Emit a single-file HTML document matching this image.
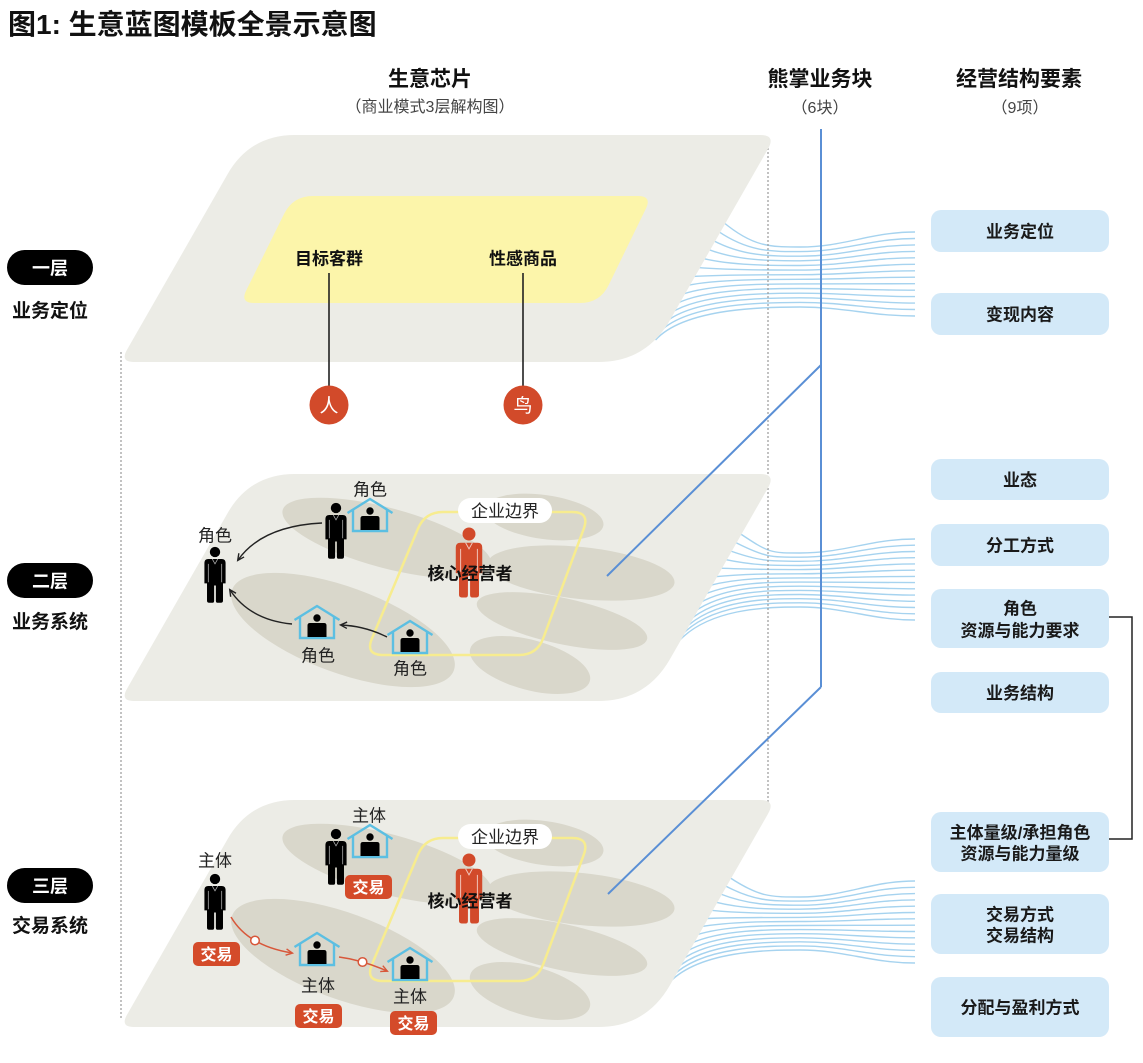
<!DOCTYPE html>
<html><head><meta charset="utf-8">
<style>
html,body{margin:0;padding:0;background:#fff;}
svg{display:block;}
text{font-family:"Liberation Sans","Noto Sans CJK SC",sans-serif;}
</style></head>
<body>
<svg width="1143" height="1063" viewBox="0 0 1143 1063" xmlns="http://www.w3.org/2000/svg">
<defs>
  <g id="person">
    <circle cx="0" cy="0" r="4.8"/>
    <path d="M-9.8,10 Q-9.8,6.5 -6.2,6.5 L6.2,6.5 Q9.8,6.5 9.8,10 L9.8,29 L7.4,29 L7.4,45 Q7.4,47 5.4,47 L2.2,47 Q0.8,47 0.8,45 L0.8,31 L-0.8,31 L-0.8,45 Q-0.8,47 -2.2,47 L-5.4,47 Q-7.4,47 -7.4,45 L-7.4,29 L-9.8,29 Z"/>
    <path d="M-6.2,11 L-6.2,28 M6.2,11 L6.2,28 M-2.5,6.5 L0,11 L2.5,6.5" fill="none" stroke="#fff" stroke-width="0.7" opacity="0.7"/>
  </g>
  <g id="house">
    <path d="M-22.5,14 L0,0 L22.5,14" fill="none" stroke="#5cbfe2" stroke-width="2.4"/>
    <path d="M-17,10.6 L-17,32 L17,32 L17,10.6" fill="none" stroke="#5cbfe2" stroke-width="2.4"/>
    <circle cx="0" cy="12" r="3.7" fill="#000"/>
    <path d="M-9.5,31 L-9.5,19.5 Q-9.5,17 -7,17 L7,17 Q9.5,17 9.5,19.5 L9.5,31 Z" fill="#000"/>
  </g>
  <marker id="ab" markerWidth="10" markerHeight="10" refX="7" refY="4" orient="auto" markerUnits="userSpaceOnUse">
    <path d="M1,0.8 L7.5,4 L1,7.2" fill="none" stroke="#222" stroke-width="1.4"/>
  </marker>
  <marker id="ar" markerWidth="10" markerHeight="10" refX="7" refY="4" orient="auto" markerUnits="userSpaceOnUse">
    <path d="M1,0.8 L7.5,4 L1,7.2" fill="none" stroke="#d8573a" stroke-width="1.4"/>
  </marker>
</defs>

<!-- Fans -->
<g fill="none" stroke="#a6d3ef" stroke-width="1.4">
<path d="M723.1,222 C753.1,247 770,247 800,247 C845,247 870,232 915,232"/>
<path d="M717.9,231.1 C747.9,251.6 770,251.6 800,251.6 C845,251.6 870,238.5 915,238.5"/>
<path d="M712.7,240.2 C742.7,256.2 770,256.2 800,256.2 C845,256.2 870,244.9 915,244.9"/>
<path d="M707.6,249.2 C737.6,260.8 770,260.8 800,260.8 C845,260.8 870,251.4 915,251.4"/>
<path d="M702.3,258.3 C732.3,265.5 770,265.5 800,265.5 C845,265.5 870,257.8 915,257.8"/>
<path d="M697.1,267.4 C727.1,270.1 770,270.1 800,270.1 C845,270.1 870,264.3 915,264.3"/>
<path d="M691.9,276.5 C721.9,274.7 770,274.7 800,274.7 C845,274.7 870,270.8 915,270.8"/>
<path d="M686.8,285.5 C716.8,279.3 770,279.3 800,279.3 C845,279.3 870,277.2 915,277.2"/>
<path d="M681.5,294.6 C711.5,283.9 770,283.9 800,283.9 C845,283.9 870,283.7 915,283.7"/>
<path d="M676.3,303.7 C706.3,288.5 770,288.5 800,288.5 C845,288.5 870,290.2 915,290.2"/>
<path d="M671.1,312.8 C701.1,293.2 770,293.2 800,293.2 C845,293.2 870,296.6 915,296.6"/>
<path d="M666,321.8 C696,297.8 770,297.8 800,297.8 C845,297.8 870,303.1 915,303.1"/>
<path d="M660.7,330.9 C690.7,302.4 770,302.4 800,302.4 C845,302.4 870,309.5 915,309.5"/>
<path d="M655.5,340 C685.5,307 770,307 800,307 C845,307 870,316 915,316"/>

<path d="M739.2,533 C769.2,553 770,553 800,553 C845,553 870,539 915,539"/>
<path d="M734.2,541.8 C764.2,557.2 770,557.2 800,557.2 C845,557.2 870,545.2 915,545.2"/>
<path d="M729.2,550.5 C759.2,561.3 770,561.3 800,561.3 C845,561.3 870,551.5 915,551.5"/>
<path d="M724.1,559.3 C754.1,565.5 770,565.5 800,565.5 C845,565.5 870,557.7 915,557.7"/>
<path d="M719.1,568.1 C749.1,569.6 770,569.6 800,569.6 C845,569.6 870,563.9 915,563.9"/>
<path d="M714.1,576.8 C744.1,573.8 770,573.8 800,573.8 C845,573.8 870,570.2 915,570.2"/>
<path d="M709.1,585.6 C739.1,577.9 770,577.9 800,577.9 C845,577.9 870,576.4 915,576.4"/>
<path d="M704,594.4 C734,582.1 770,582.1 800,582.1 C845,582.1 870,582.6 915,582.6"/>
<path d="M699,603.2 C729,586.2 770,586.2 800,586.2 C845,586.2 870,588.8 915,588.8"/>
<path d="M694,611.9 C724,590.4 770,590.4 800,590.4 C845,590.4 870,595.1 915,595.1"/>
<path d="M688.9,620.7 C718.9,594.5 770,594.5 800,594.5 C845,594.5 870,601.3 915,601.3"/>
<path d="M683.9,629.5 C713.9,598.7 770,598.7 800,598.7 C845,598.7 870,607.5 915,607.5"/>
<path d="M678.9,638.2 C708.9,602.8 770,602.8 800,602.8 C845,602.8 870,613.8 915,613.8"/>
<path d="M673.9,647 C703.9,607 770,607 800,607 C845,607 870,620 915,620"/>

<path d="M728.9,877 C758.9,897 770,897 800,897 C845,897 870,881 915,881"/>
<path d="M724.1,885.3 C754.1,901.1 770,901.1 800,901.1 C845,901.1 870,887.3 915,887.3"/>
<path d="M719.4,893.6 C749.4,905.2 770,905.2 800,905.2 C845,905.2 870,893.6 915,893.6"/>
<path d="M714.6,901.9 C744.6,909.2 770,909.2 800,909.2 C845,909.2 870,899.9 915,899.9"/>
<path d="M709.9,910.2 C739.9,913.3 770,913.3 800,913.3 C845,913.3 870,906.2 915,906.2"/>
<path d="M705.1,918.5 C735.1,917.4 770,917.4 800,917.4 C845,917.4 870,912.5 915,912.5"/>
<path d="M700.3,926.8 C730.3,921.5 770,921.5 800,921.5 C845,921.5 870,918.8 915,918.8"/>
<path d="M695.5,935.2 C725.5,925.5 770,925.5 800,925.5 C845,925.5 870,925.2 915,925.2"/>
<path d="M690.8,943.5 C720.8,929.6 770,929.6 800,929.6 C845,929.6 870,931.5 915,931.5"/>
<path d="M686,951.8 C716,933.7 770,933.7 800,933.7 C845,933.7 870,937.8 915,937.8"/>
<path d="M681.3,960.1 C711.3,937.8 770,937.8 800,937.8 C845,937.8 870,944.1 915,944.1"/>
<path d="M676.5,968.4 C706.5,941.8 770,941.8 800,941.8 C845,941.8 870,950.4 915,950.4"/>
<path d="M671.8,976.7 C701.8,945.9 770,945.9 800,945.9 C845,945.9 870,956.7 915,956.7"/>
<path d="M667,985 C697,950 770,950 800,950 C845,950 870,963 915,963"/>
</g>

<!-- Dotted guide lines -->
<g stroke="#9a9a9a" stroke-width="1.2" stroke-dasharray="2 2" fill="none">
  <path d="M121,352 V1018"/>
  <path d="M768,140 V812"/>
</g>

<!-- Layer 1 -->
<g transform="translate(0,135)">
  <path d="M295,0 L760,0 Q776,0 768,13.9 L669.9,185.3 Q646,227 598,227 L134,227 Q120,227 127,214.8 L227.6,39.1 Q250,0 295,0Z" fill="#ecece6"/>
</g>
<path d="M313,196 L638,196 Q652,196 645.9,208.6 L608.7,285 Q600,303 580,303 L254,303 Q240,303 246.2,290.5 L284.1,213.9 Q293,196 313,196Z" fill="#fcf5aa"/>
<text x="329" y="264.5" font-size="17" font-weight="bold" text-anchor="middle" fill="#111">目标客群</text>
<text x="523" y="264.5" font-size="17" font-weight="bold" text-anchor="middle" fill="#111">性感商品</text>
<path d="M329,273 V387 M523,273 V387" stroke="#222" stroke-width="1.6"/>
<circle cx="329" cy="405" r="19.5" fill="#d24a2a"/>
<circle cx="523" cy="405" r="19.5" fill="#d24a2a"/>
<text x="329" y="412" font-size="19" text-anchor="middle" fill="#fff">人</text>
<text x="523" y="412" font-size="19" text-anchor="middle" fill="#fff">鸟</text>

<!-- Layer 2 -->
<g transform="translate(0,474)">
  <path d="M295,0 L760,0 Q776,0 768,13.9 L669.9,185.3 Q646,227 598,227 L134,227 Q120,227 127,214.8 L227.6,39.1 Q250,0 295,0Z" fill="#ecece6"/>
</g>
<g fill="#d9d7cb">
  <ellipse cx="387" cy="538" rx="108" ry="30" transform="rotate(15 387 538)"/>
  <ellipse cx="343" cy="630" rx="118" ry="43" transform="rotate(20 343 630)"/>
  <ellipse cx="544" cy="517" rx="60" ry="22" transform="rotate(8 544 517)"/>
  <ellipse cx="581" cy="573" rx="94" ry="26" transform="rotate(6 581 573)"/>
  <ellipse cx="562" cy="621" rx="87" ry="23" transform="rotate(12 562 621)"/>
  <ellipse cx="530" cy="665" rx="62" ry="25" transform="rotate(15 530 665)"/>
</g>
<path d="M443,512 L572,512 Q590,512 583.7,528.9 L543.3,638.1 Q537,655 519,655 L383,655 Q365,655 372,638.4 L418,528.6 Q425,512 443,512Z" fill="none" stroke="#f7ec8f" stroke-width="2.5"/>
<rect x="458" y="498" width="94" height="25" rx="12.5" fill="#fff"/>
<text x="505" y="517" font-size="17" text-anchor="middle" fill="#222">企业边界</text>
<use href="#person" transform="translate(469,534) scale(1.35)" fill="#d24a2a"/>
<text x="470" y="579.5" font-size="17" font-weight="bold" text-anchor="middle" fill="#111">核心经营者</text>
<use href="#person" transform="translate(336,508) scale(1.08)" fill="#000"/>
<use href="#house" x="370" y="499"/>
<use href="#person" transform="translate(215,552) scale(1.08)" fill="#000"/>
<use href="#house" x="317" y="606"/>
<use href="#house" x="410" y="621"/>
<g font-size="17" text-anchor="middle" fill="#222">
  <text x="370" y="495.5">角色</text>
  <text x="215" y="541.5">角色</text>
  <text x="318" y="661.5">角色</text>
  <text x="410" y="674.5">角色</text>
</g>
<g fill="none" stroke="#222" stroke-width="1.4">
  <path d="M322,523 Q262,526 238,560" marker-end="url(#ab)"/>
  <path d="M292,624 Q250,620 230,590" marker-end="url(#ab)"/>
  <path d="M387,637 Q365,626 341,625" marker-end="url(#ab)"/>
</g>

<!-- Layer 3 -->
<g transform="translate(0,800)">
  <path d="M295,0 L760,0 Q776,0 768,13.9 L669.9,185.3 Q646,227 598,227 L134,227 Q120,227 127,214.8 L227.6,39.1 Q250,0 295,0Z" fill="#ecece6"/>
</g>
<g transform="translate(0,326)">
  <g fill="#d9d7cb">
    <ellipse cx="387" cy="538" rx="108" ry="30" transform="rotate(15 387 538)"/>
    <ellipse cx="343" cy="630" rx="118" ry="43" transform="rotate(20 343 630)"/>
    <ellipse cx="544" cy="517" rx="60" ry="22" transform="rotate(8 544 517)"/>
    <ellipse cx="581" cy="573" rx="94" ry="26" transform="rotate(6 581 573)"/>
    <ellipse cx="562" cy="621" rx="87" ry="23" transform="rotate(12 562 621)"/>
    <ellipse cx="530" cy="665" rx="62" ry="25" transform="rotate(15 530 665)"/>
  </g>
  <path d="M443,512 L572,512 Q590,512 583.7,528.9 L543.3,638.1 Q537,655 519,655 L383,655 Q365,655 372,638.4 L418,528.6 Q425,512 443,512Z" fill="none" stroke="#f7ec8f" stroke-width="2.5"/>
  <rect x="458" y="498" width="94" height="25" rx="12.5" fill="#fff"/>
  <use href="#person" transform="translate(469,534) scale(1.35)" fill="#d24a2a"/>
  <use href="#person" transform="translate(336,508) scale(1.08)" fill="#000"/>
  <use href="#house" x="370" y="499"/>
  <use href="#person" transform="translate(215,553) scale(1.08)" fill="#000"/>
  <use href="#house" x="317" y="607"/>
  <use href="#house" x="410" y="622"/>
</g>
<text x="505" y="843" font-size="17" text-anchor="middle" fill="#222">企业边界</text>
<text x="470" y="907" font-size="17" font-weight="bold" text-anchor="middle" fill="#111">核心经营者</text>
<g font-size="17" text-anchor="middle" fill="#222">
  <text x="369" y="821.5">主体</text>
  <text x="215" y="866.5">主体</text>
  <text x="318" y="991.5">主体</text>
  <text x="410" y="1002.5">主体</text>
</g>
<g fill="none" stroke="#d8573a" stroke-width="1.5">
  <path d="M231,917 Q248,946 292,953" marker-end="url(#ar)"/>
  <path d="M339,957 Q362,960 387,971" marker-end="url(#ar)"/>
</g>
<circle cx="255" cy="940.5" r="4.3" fill="#fff" stroke="#d8573a" stroke-width="1.5"/>
<circle cx="362.5" cy="962" r="4.3" fill="#fff" stroke="#d8573a" stroke-width="1.5"/>
<g fill="#d44b2a">
  <rect x="345" y="875" width="47" height="24" rx="5"/>
  <rect x="193" y="942" width="47" height="24" rx="5"/>
  <rect x="295" y="1004" width="47" height="24" rx="5"/>
  <rect x="390" y="1011" width="47" height="24" rx="5"/>
</g>
<g font-size="16" font-weight="bold" text-anchor="middle" fill="#fff">
  <text x="368.5" y="893">交易</text>
  <text x="216.5" y="960">交易</text>
  <text x="318.5" y="1022">交易</text>
  <text x="413.5" y="1029">交易</text>
</g>

<!-- Blue connector lines -->
<g stroke="#5a8fd5" stroke-width="2" fill="none">
  <path d="M821,129 V687"/>
  <path d="M821,365 L607,576"/>
  <path d="M821,687 L608,894"/>
</g>

<!-- Title & headers -->
<text x="8" y="34" font-size="28" font-weight="bold" fill="#111">图1: 生意蓝图模板全景示意图</text>
<text x="430" y="86" font-size="21" font-weight="bold" text-anchor="middle" fill="#111">生意芯片</text>
<text x="430" y="112" font-size="16" text-anchor="middle" fill="#444">（商业模式3层解构图）</text>
<text x="820" y="86" font-size="21" font-weight="bold" text-anchor="middle" fill="#111">熊掌业务块</text>
<text x="820" y="113" font-size="16" text-anchor="middle" fill="#444">（6块）</text>
<text x="1019" y="86" font-size="21" font-weight="bold" text-anchor="middle" fill="#111">经营结构要素</text>
<text x="1020" y="113" font-size="16" text-anchor="middle" fill="#444">（9项）</text>

<!-- Left layer labels -->
<rect x="7" y="250" width="86" height="35" rx="17.5" fill="#000"/>
<text x="50" y="274.5" font-size="18" font-weight="bold" text-anchor="middle" fill="#fff">一层</text>
<text x="50" y="317" font-size="19" font-weight="bold" text-anchor="middle" fill="#111">业务定位</text>
<rect x="7" y="563" width="86" height="35" rx="17.5" fill="#000"/>
<text x="50" y="587.5" font-size="18" font-weight="bold" text-anchor="middle" fill="#fff">二层</text>
<text x="50" y="628" font-size="19" font-weight="bold" text-anchor="middle" fill="#111">业务系统</text>
<rect x="7" y="868" width="86" height="35" rx="17.5" fill="#000"/>
<text x="50" y="892.5" font-size="18" font-weight="bold" text-anchor="middle" fill="#fff">三层</text>
<text x="50" y="932" font-size="19" font-weight="bold" text-anchor="middle" fill="#111">交易系统</text>

<!-- Right boxes -->
<g fill="#d3e9f8">
  <rect x="931" y="210" width="178" height="42" rx="10"/>
  <rect x="931" y="293" width="178" height="42" rx="10"/>
  <rect x="931" y="459" width="178" height="41" rx="10"/>
  <rect x="931" y="524" width="178" height="42" rx="10"/>
  <rect x="931" y="589" width="178" height="59" rx="10"/>
  <rect x="931" y="672" width="178" height="41" rx="10"/>
  <rect x="931" y="812" width="178" height="60" rx="10"/>
  <rect x="931" y="894" width="178" height="60" rx="10"/>
  <rect x="931" y="977" width="178" height="60" rx="10"/>
</g>
<g font-size="17" font-weight="bold" text-anchor="middle" fill="#1a1a1a">
  <text x="1020" y="237.5">业务定位</text>
  <text x="1020" y="320.5">变现内容</text>
  <text x="1020" y="486">业态</text>
  <text x="1020" y="551.5">分工方式</text>
  <text x="1020" y="614.5">角色</text>
  <text x="1020" y="636.5">资源与能力要求</text>
  <text x="1020" y="699">业务结构</text>
  <text x="1020" y="838.5">主体量级/承担角色</text>
  <text x="1020" y="859.5">资源与能力量级</text>
  <text x="1020" y="920.5">交易方式</text>
  <text x="1020" y="941.5">交易结构</text>
  <text x="1020" y="1013.5">分配与盈利方式</text>
</g>
<path d="M1109,617 H1132 V839 H1109" fill="none" stroke="#222" stroke-width="1.5"/>
</svg>
</body></html>
